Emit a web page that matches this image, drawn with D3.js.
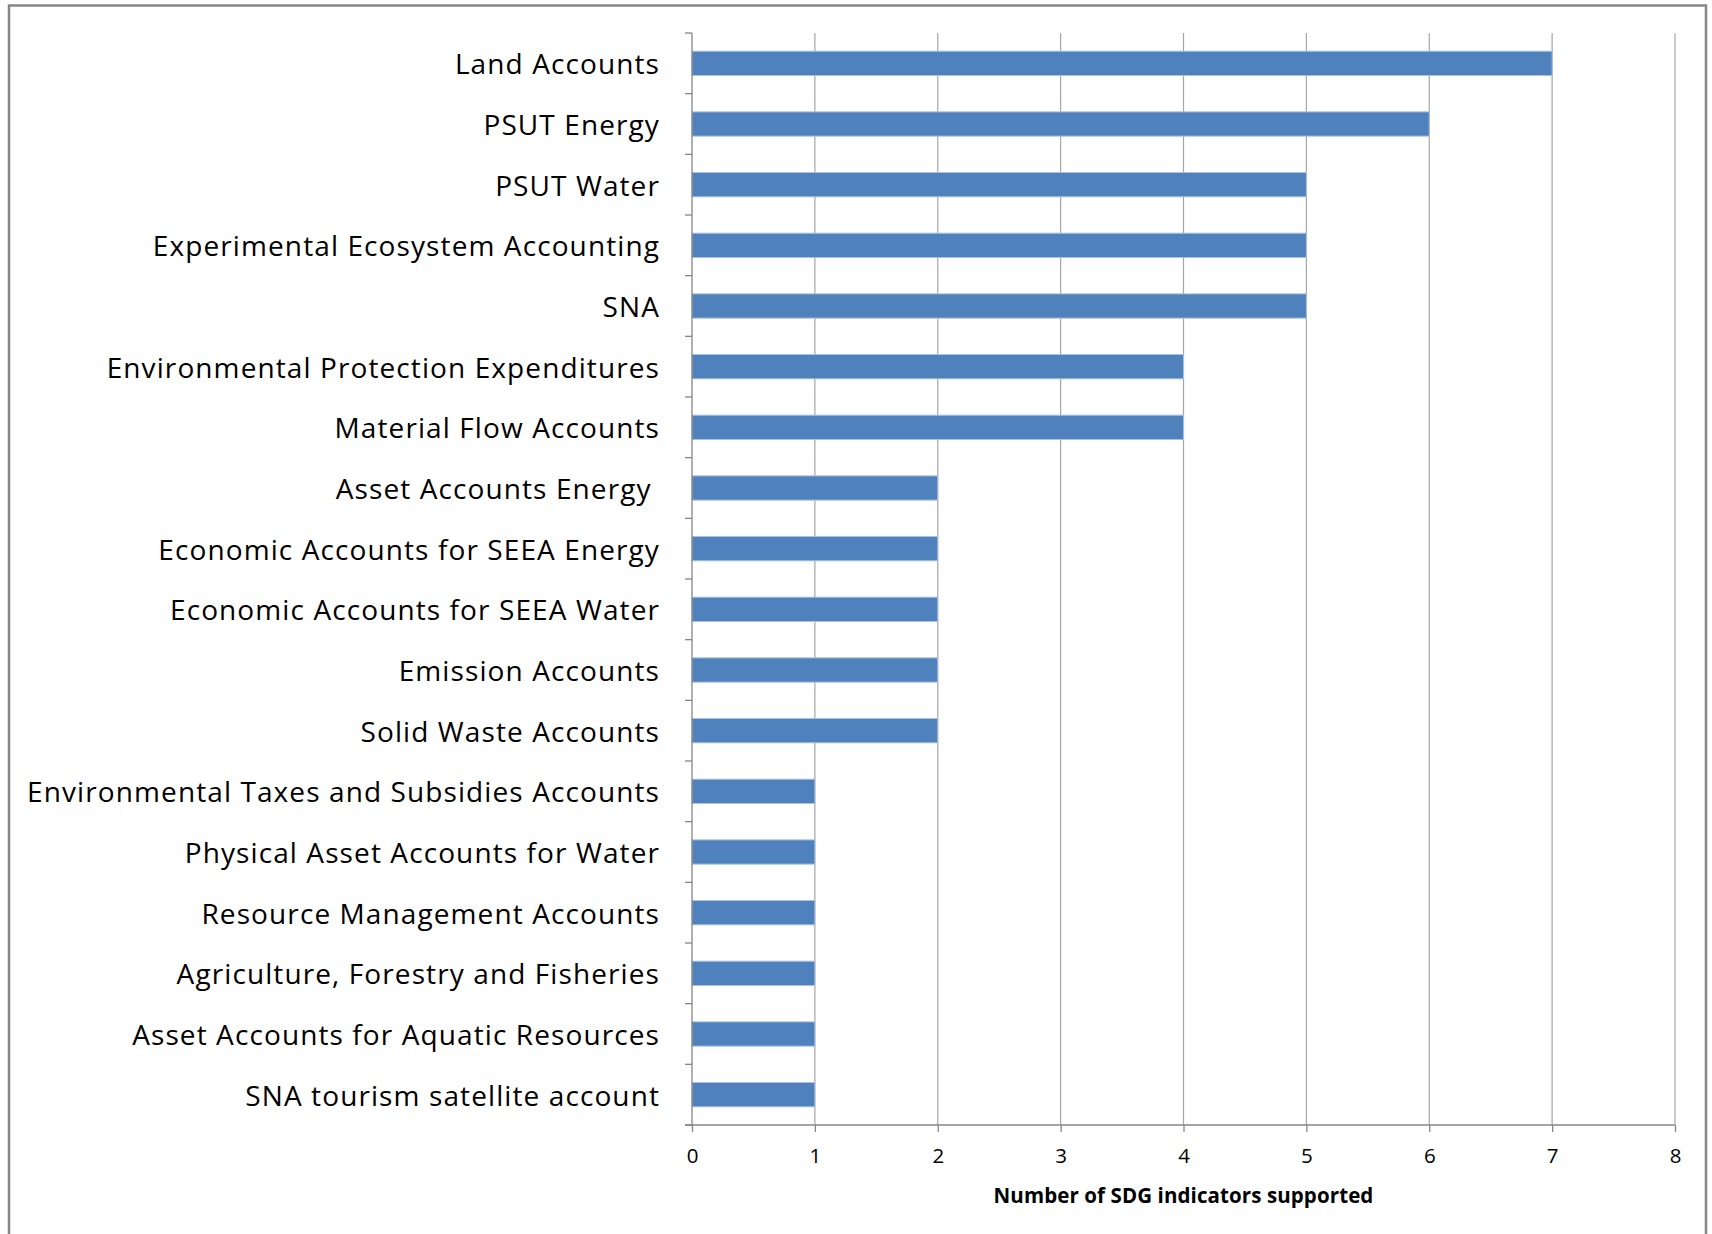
<!DOCTYPE html>
<html>
<head>
<meta charset="utf-8">
<script src="https://cdn.jsdelivr.net/npm/d3@7/dist/d3.min.js"></script>
<style>
  html, body { margin: 0; padding: 0; background: #fff; }
  svg text { white-space: pre; }
</style>
</head>
<body>
<svg id="chart" width="1712" height="1234"></svg>
<script>
const categories = [
  "Land Accounts",
  "PSUT Energy",
  "PSUT Water",
  "Experimental Ecosystem Accounting",
  "SNA",
  "Environmental Protection Expenditures",
  "Material Flow Accounts",
  "Asset Accounts Energy ",
  "Economic Accounts for SEEA Energy",
  "Economic Accounts for SEEA Water",
  "Emission Accounts",
  "Solid Waste Accounts",
  "Environmental Taxes and Subsidies Accounts",
  "Physical Asset Accounts for Water",
  "Resource Management Accounts",
  "Agriculture, Forestry and Fisheries",
  "Asset Accounts for Aquatic Resources",
  "SNA tourism satellite account"
];
const values = [7, 6, 5, 5, 5, 4, 4, 2, 2, 2, 2, 2, 1, 1, 1, 1, 1, 1];
const xTicks = [0, 1, 2, 3, 4, 5, 6, 7, 8];
const xTitle = "Number of SDG indicators supported";

const svg = d3.select("#chart");
const plot = { left: 692, right: 1675, top: 33, bottom: 1125 };

// outer chart border
svg.append("rect")
  .attr("x", 9).attr("y", 5.5)
  .attr("width", 1697).attr("height", 1240)
  .attr("fill", "#fff")
  .attr("stroke", "#878787").attr("stroke-width", 2.5);

const x = d3.scaleLinear().domain([0, 8]).range([plot.left, plot.right]);
const y = d3.scaleBand().domain(categories).range([plot.top, plot.bottom]).paddingInner(0.6).paddingOuter(0.3);
const yb = d3.scaleBand().domain(categories).range([plot.top, plot.bottom]);

// vertical gridlines
svg.append("g").selectAll("line").data(xTicks.slice(1)).join("line")
  .attr("x1", d => x(d)).attr("x2", d => x(d))
  .attr("y1", plot.top).attr("y2", plot.bottom)
  .attr("stroke", "#a6a6a6").attr("stroke-width", 1.2);

// bars
svg.append("g").selectAll("rect").data(values).join("rect")
  .attr("x", x(0))
  .attr("y", (d, i) => y(categories[i]))
  .attr("width", d => x(d) - x(0))
  .attr("height", y.bandwidth())
  .attr("fill", "#4f81bd")
  .attr("stroke", "#a9c1e0").attr("stroke-width", 1);

// y axis line + ticks (category boundaries)
const yAxisG = svg.append("g");
yAxisG.append("line")
  .attr("x1", plot.left).attr("x2", plot.left)
  .attr("y1", plot.top).attr("y2", plot.bottom)
  .attr("stroke", "#868686").attr("stroke-width", 1.3);
const bounds = categories.map(c => yb(c)).concat([plot.bottom]);
yAxisG.selectAll("line.tk").data(bounds).join("line").attr("class", "tk")
  .attr("x1", plot.left - 7).attr("x2", plot.left)
  .attr("y1", d => d).attr("y2", d => d)
  .attr("stroke", "#868686").attr("stroke-width", 1.3);

// y labels
svg.append("g").selectAll("text").data(categories).join("text")
  .attr("x", 660)
  .attr("y", d => yb(d) + yb.bandwidth() / 2)
  .attr("text-anchor", "end")
  .attr("dominant-baseline", "central")
  .attr("font-family", "'Open Sans', sans-serif")
  .attr("font-size", 28)
  .attr("letter-spacing", 1.1)
  .attr("fill", "#000")
  .text(d => d);

// x axis
const xAxis = d3.axisBottom(x).tickValues(xTicks).tickSize(7).tickPadding(16).tickFormat(d3.format("d"));
const xg = svg.append("g").attr("transform", `translate(0,${plot.bottom})`).call(xAxis);
xg.select(".domain").attr("stroke", "#868686").attr("stroke-width", 1.3)
  .attr("d", `M${plot.left - 7},0H${plot.right}`);
xg.selectAll(".tick line").attr("stroke", "#868686").attr("stroke-width", 1.3);
xg.selectAll(".tick text")
  .attr("font-family", "'Open Sans', sans-serif")
  .attr("font-size", 20.5)
  .attr("fill", "#000");

// x title
svg.append("text")
  .attr("x", (plot.left + plot.right) / 2)
  .attr("y", 1195)
  .attr("text-anchor", "middle")
  .attr("dominant-baseline", "central")
  .attr("font-family", "'Open Sans', sans-serif")
  .attr("font-weight", "bold")
  .attr("font-size", 20.5)
  .attr("letter-spacing", 0.1)
  .attr("fill", "#000")
  .text(xTitle);
</script>
</body>
</html>
